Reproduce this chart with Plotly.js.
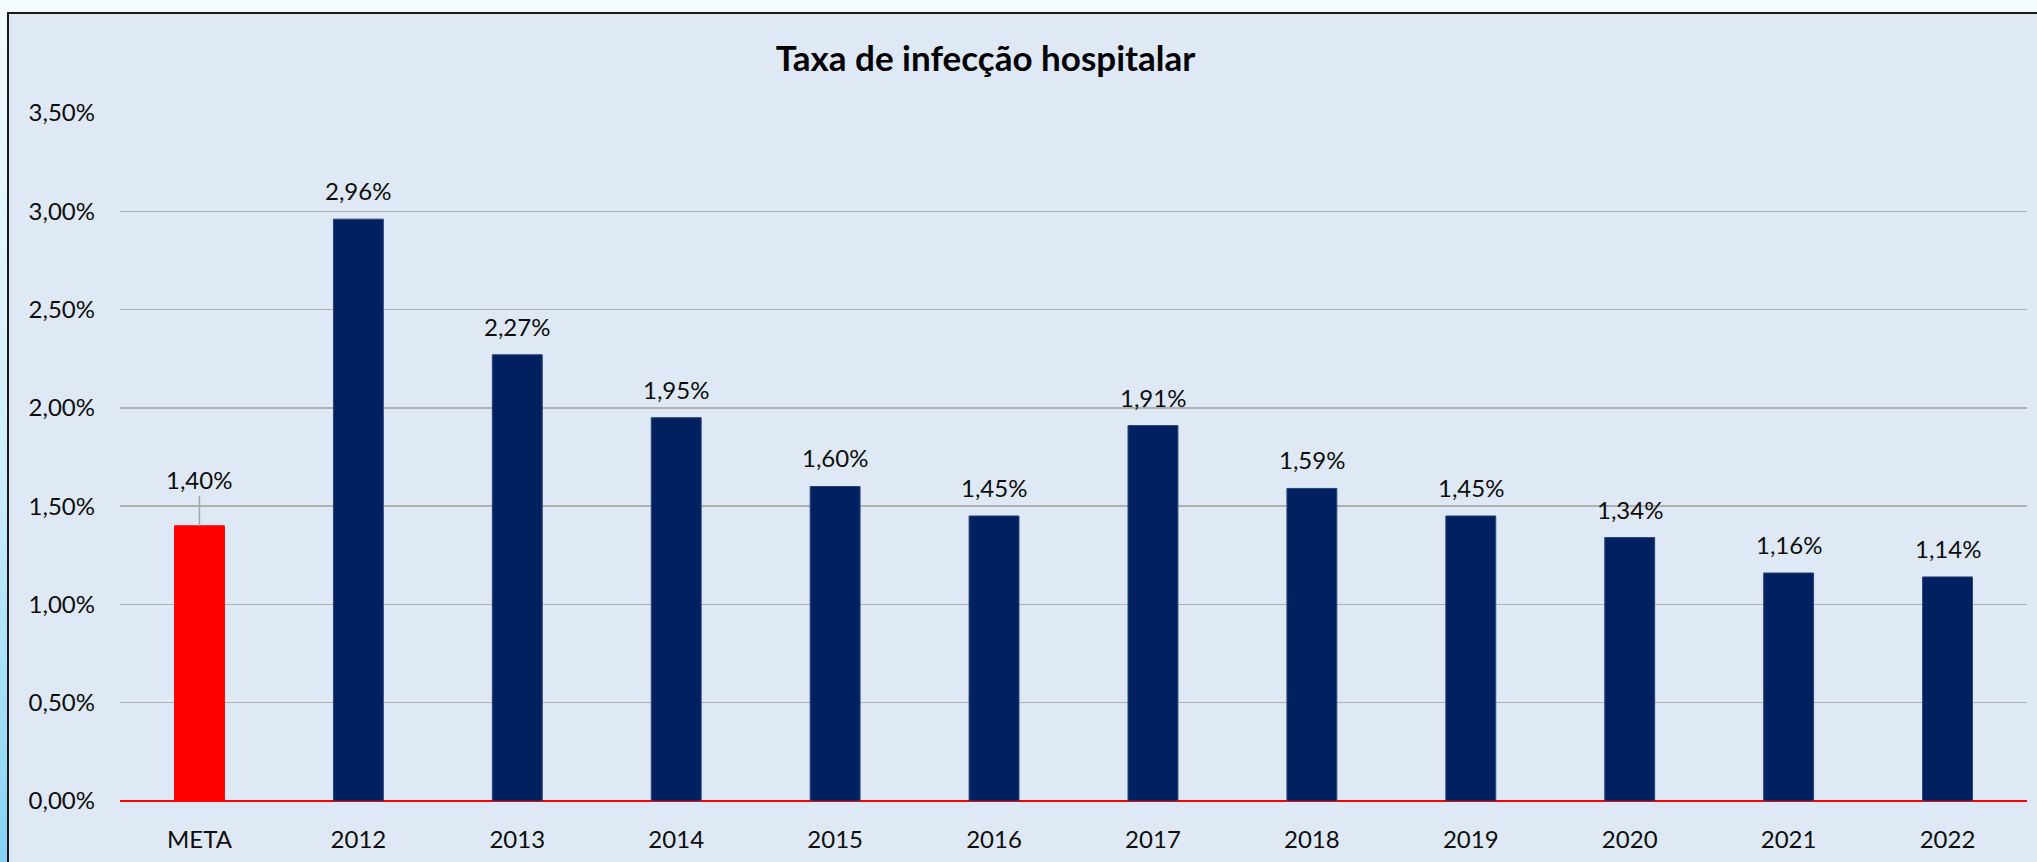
<!DOCTYPE html>
<html>
<head>
<meta charset="utf-8">
<script src="https://cdn.plot.ly/plotly-3.0.1.min.js"></script>
<style>
  html, body { margin: 0; padding: 0; width: 2037px; height: 862px; overflow: hidden; background: #f4fbfe; }
  #strip { position: absolute; left: 0; top: 0; width: 7px; height: 862px;
    background: linear-gradient(to bottom, #f4fbfe 0%, #cdeefb 55%, #86d2f4 100%); }
  #frame { position: absolute; left: 7px; top: 12px; width: 2030px; height: 850px;
    border-top: 2px solid #1a1a1a; border-left: 2px solid #1a1a1a; background: #dee9f5; }
  #chart { width: 2028px; height: 848px; }
</style>
</head>
<body>
<div id="strip"></div>
<div id="frame"><div id="chart"></div></div>
<script>
// Taxa de infecção hospitalar — meta vs. anos
const categories = ['META', '2012', '2013', '2014', '2015', '2016', '2017', '2018', '2019', '2020', '2021', '2022'];
const rates = [1.40, 2.96, 2.27, 1.95, 1.60, 1.45, 1.91, 1.59, 1.45, 1.34, 1.16, 1.14];
const barColors = ['#ff0000', '#002060', '#002060', '#002060', '#002060', '#002060',
  '#002060', '#002060', '#002060', '#002060', '#002060', '#002060'];
const barEdges = ['#ff0000', '#2a4478', '#2a4478', '#2a4478', '#2a4478', '#2a4478',
  '#2a4478', '#2a4478', '#2a4478', '#2a4478', '#2a4478', '#2a4478'];

const fmtPct = (v) => v.toFixed(2).replace('.', ',') + '%';
const font = 'Lato, "Open Sans", sans-serif';

const trace = {
  type: 'bar',
  x: categories,
  y: rates,
  marker: {color: barColors, line: {color: barEdges, width: 1}},
  hoverinfo: 'skip',
};

// data labels (x by category index); the META one sits higher with a leader line
const annotations = categories.map((c, i) => {
  if (i === 0) {
    return {
      x: i, y: rates[i], xref: 'x', yref: 'y',
      text: fmtPct(rates[i]),
      showarrow: true, arrowhead: 0, arrowwidth: 1.5, arrowcolor: '#a6a6a6',
      ax: 0, ay: -46, standoff: 0,
      font: {family: font, size: 24, color: '#0d0d0d'},
    };
  }
  return {
    x: i, y: rates[i], xref: 'x', yref: 'y',
    text: fmtPct(rates[i]),
    showarrow: false, yanchor: 'bottom', yshift: 12,
    font: {family: font, size: 24, color: '#0d0d0d'},
  };
});

const layout = {
  width: 2028,
  height: 848,
  margin: {l: 111, r: 10, t: 99, b: 61},
  paper_bgcolor: 'rgba(0,0,0,0)',
  plot_bgcolor: 'rgba(0,0,0,0)',
  separators: ',.',
  bargap: 0.686,
  showlegend: false,
  title: {
    text: '<b>Taxa de infecção hospitalar</b>',
    x: 0.4815, xanchor: 'center', y: 0.947, yanchor: 'middle',
    font: {family: font, size: 35, color: '#000'},
  },
  xaxis: {
    type: 'category',
    range: [-0.5, categories.length - 0.5],
    showgrid: false,
    showline: false,
    ticks: '',
    ticklabelstandoff: 22,
    tickfont: {family: font, size: 24, color: '#0d0d0d'},
  },
  yaxis: {
    range: [0, 3.5],
    dtick: 0.5,
    tickformat: '.2f',
    ticksuffix: '%',
    showgrid: true,
    gridcolor: '#b0b0b0',
    gridwidth: 1.5,
    zeroline: true,
    zerolinecolor: '#ff0000',
    zerolinewidth: 2.5,
    showline: false,
    ticks: '',
    ticklabelstandoff: 24,
    tickfont: {family: font, size: 24, color: '#0d0d0d'},
  },
  annotations,
};

Plotly.newPlot('chart', [trace], layout, {displayModeBar: false, staticPlot: true});
</script>
</body>
</html>
